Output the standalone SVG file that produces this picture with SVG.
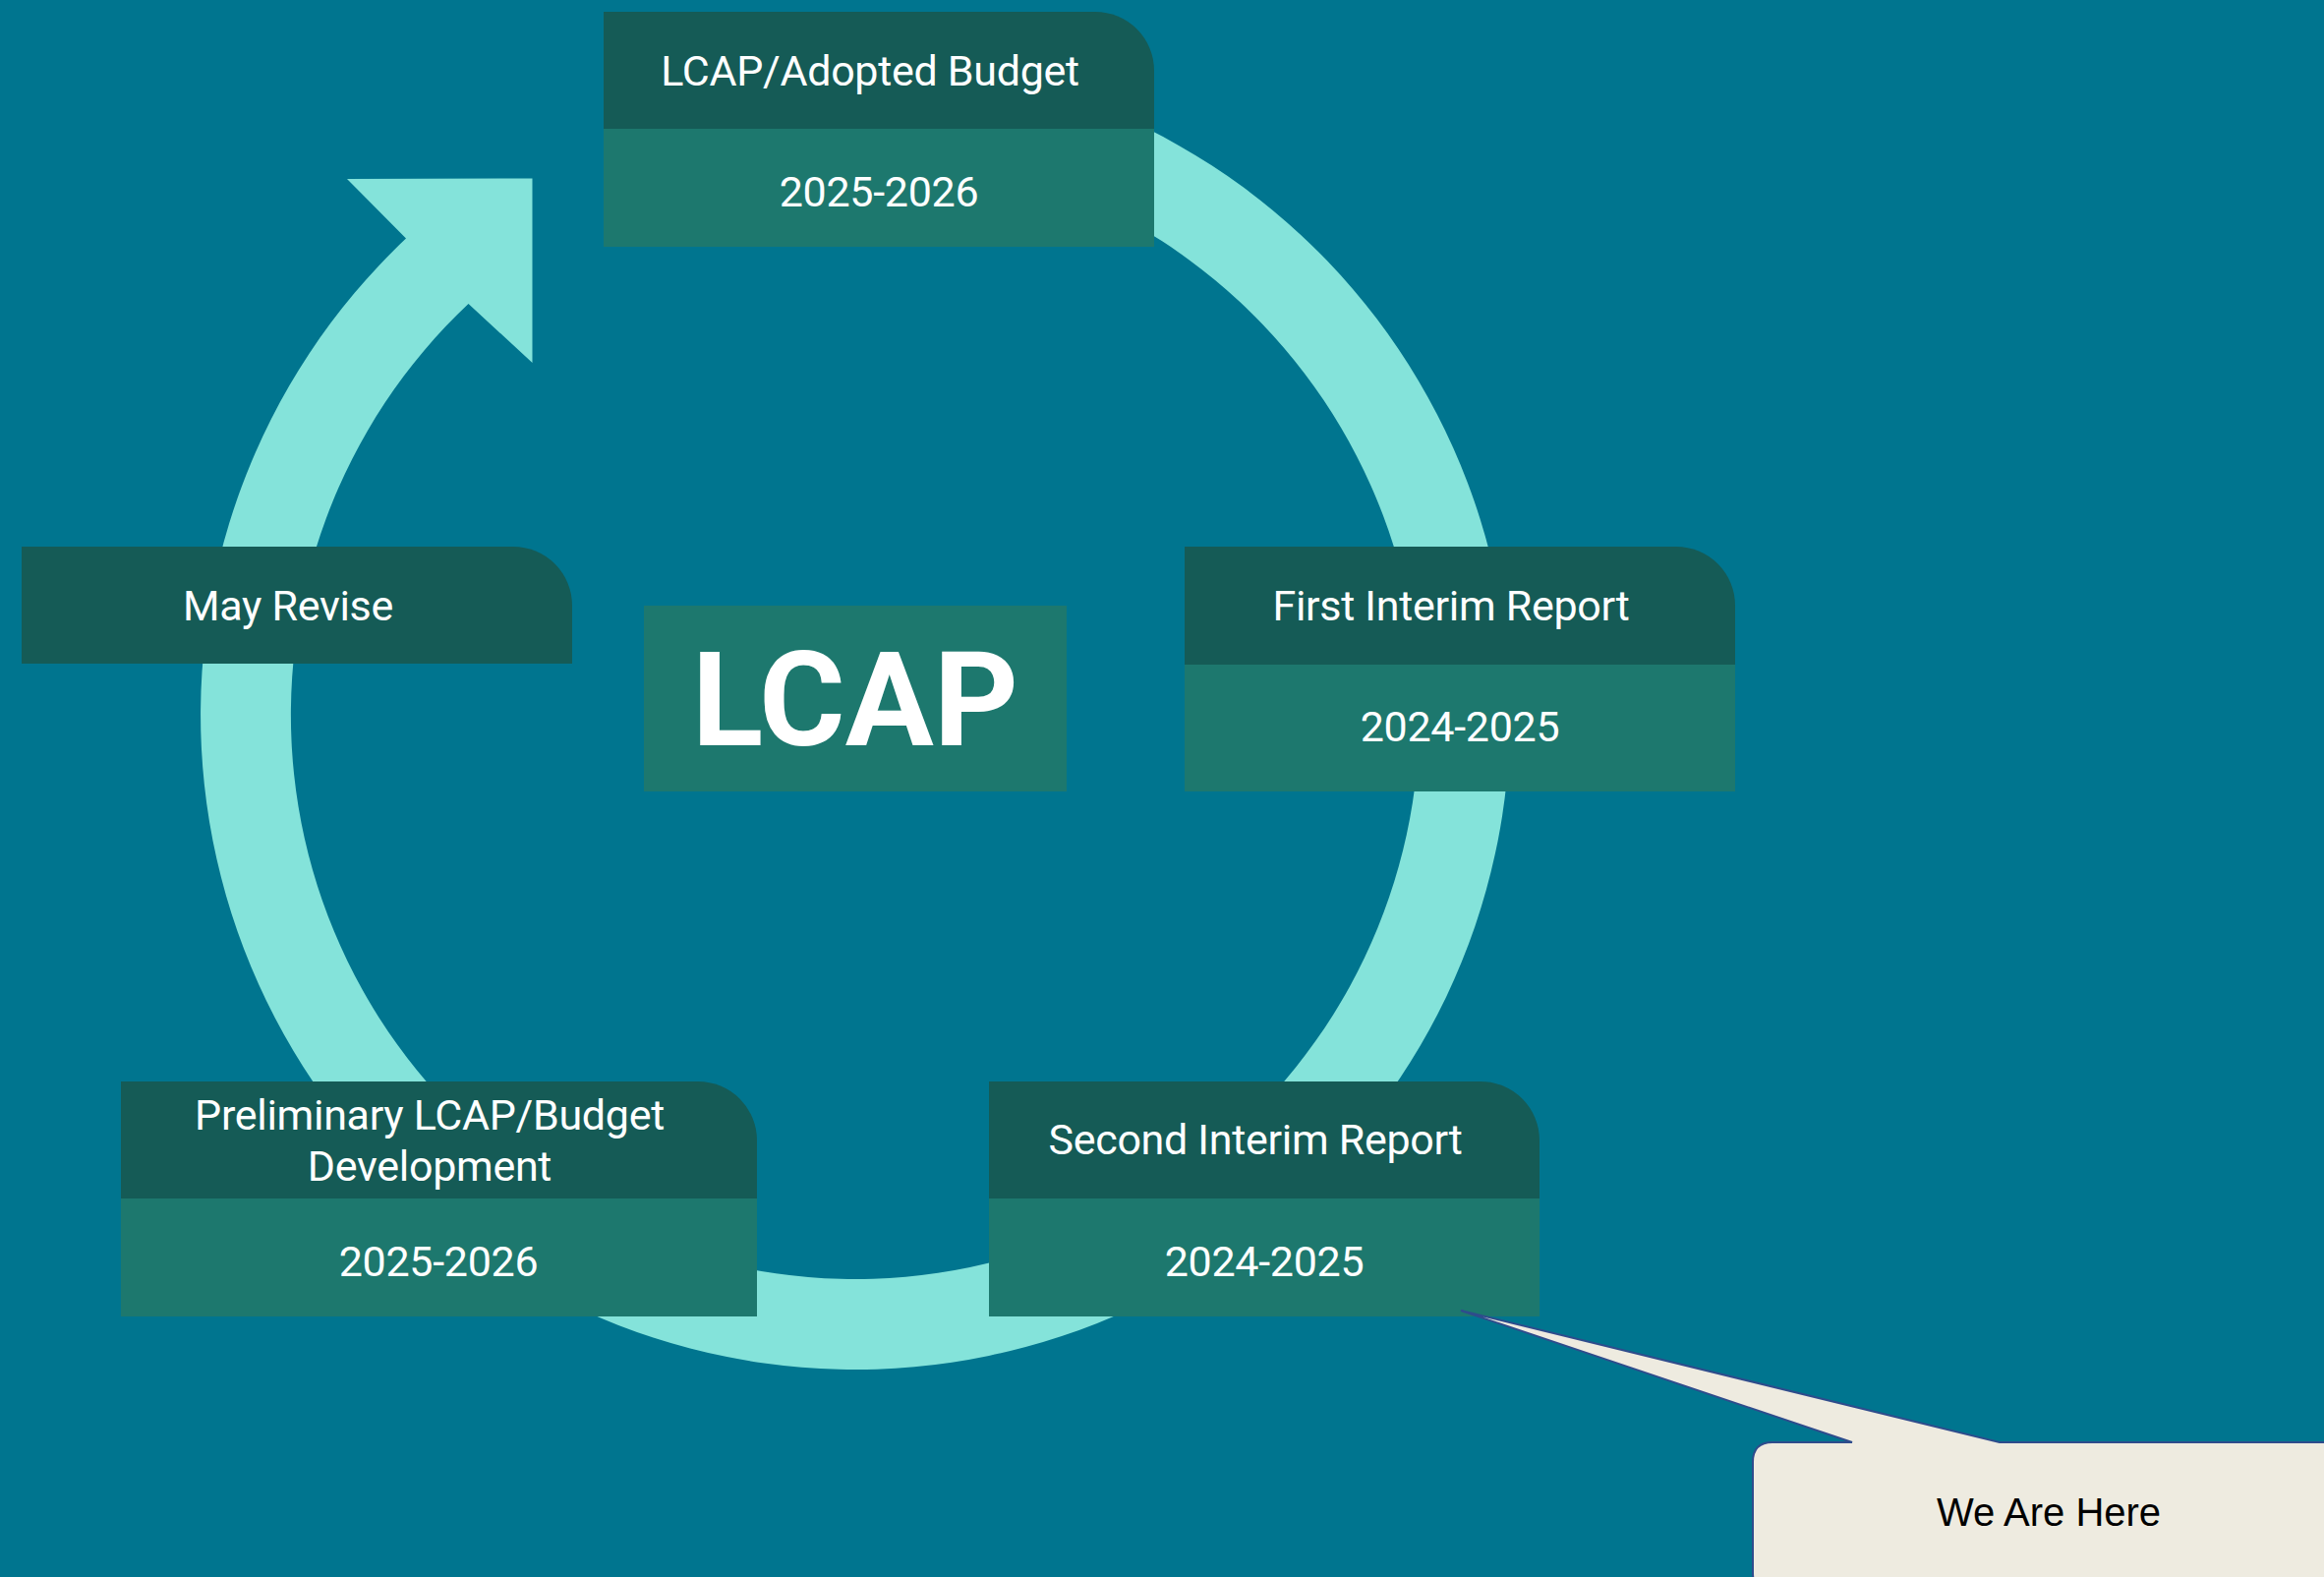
<svg xmlns="http://www.w3.org/2000/svg" width="2364" height="1604" viewBox="0 0 2364 1604">
  <style>
    .hdr { fill: #155B56; }
    .low { fill: #1D786E; }
    .ring { fill: #84E3DA; }
    .t { font-family: Roboto, "Liberation Sans", sans-serif; font-size: 43px; fill: #FFFFFF; text-anchor: middle; letter-spacing: -0.3px; }
    .big { font-family: Roboto, "Liberation Sans", sans-serif; font-size: 134px; font-weight: bold; fill: #FFFFFF; text-anchor: middle; }
    .call { fill: #EEEBE0; stroke: #2E4C8C; stroke-width: 2; }
    .ct { font-family: "Liberation Sans", Arial, sans-serif; font-size: 40px; fill: #000000; text-anchor: middle; }
  </style>
  <rect x="0" y="0" width="2364" height="1604" fill="#00758F"/>

  <g id="connectors">
    <path class="ring" d="M 870 61 A 666 666 0 1 1 413 242.6 L 353 182 L 541.5 181.5 L 541.5 369 L 476.5 309 A 574 574 0 1 0 870 153 Z"/>
  </g>

  <g id="node-adopted">
    <path class="hdr" d="M614,12 H1114 A60,60 0 0 1 1174,72 V131 H614 Z"/>
    <rect class="low" x="614" y="131" width="560" height="120"/>
    <text class="t" x="885" y="87">LCAP/Adopted Budget</text>
    <text class="t" x="894" y="210">2025-2026</text>
  </g>

  <g id="node-may">
    <path class="hdr" d="M22,556 H522 A60,60 0 0 1 582,616 V675 H22 Z"/>
    <text class="t" x="293" y="631">May Revise</text>
  </g>

  <g id="node-first">
    <path class="hdr" d="M1205,556 H1705 A60,60 0 0 1 1765,616 V676 H1205 Z"/>
    <rect class="low" x="1205" y="676" width="560" height="129"/>
    <text class="t" x="1476" y="631">First Interim Report</text>
    <text class="t" x="1485" y="754">2024-2025</text>
  </g>

  <g id="node-prelim">
    <path class="hdr" d="M123,1100 H710 A60,60 0 0 1 770,1160 V1219 H123 Z"/>
    <rect class="low" x="123" y="1219" width="647" height="120"/>
    <text class="t" x="437" y="1149">Preliminary LCAP/Budget</text>
    <text class="t" x="437" y="1201">Development</text>
    <text class="t" x="446" y="1298">2025-2026</text>
  </g>

  <g id="node-second">
    <path class="hdr" d="M1006,1100 H1506 A60,60 0 0 1 1566,1160 V1219 H1006 Z"/>
    <rect class="low" x="1006" y="1219" width="560" height="120"/>
    <text class="t" x="1277" y="1174">Second Interim Report</text>
    <text class="t" x="1286" y="1298">2024-2025</text>
  </g>

  <g id="node-lcap">
    <rect class="low" x="655" y="616" width="430" height="189"/>
    <text class="big" x="870" y="758">LCAP</text>
  </g>

  <g id="node-callout">
    <path class="call" d="M1803,1467 H1884 L1486,1333 L2034,1467 H2400 V1620 H1803 Q1783,1620 1783,1600 V1487 Q1783,1467 1803,1467 Z"/>
    <text class="ct" x="2084" y="1552">We Are Here</text>
  </g>
</svg>
